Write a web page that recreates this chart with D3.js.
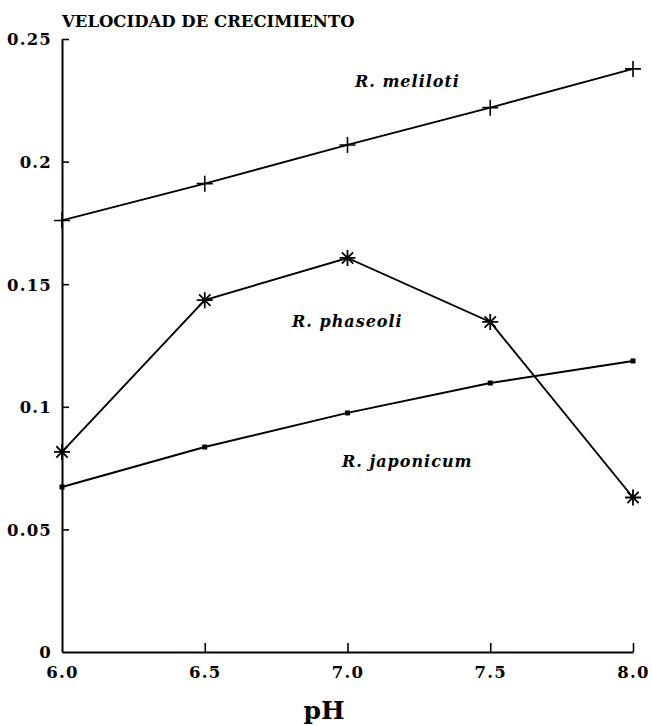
<!DOCTYPE html>
<html>
<head>
<meta charset="utf-8">
<script src="https://cdn.jsdelivr.net/npm/d3@7"></script>
<style>
  html, body { margin: 0; padding: 0; background: #fff; }
  svg { display: block; }
  text { font-family: "DejaVu Serif", "Liberation Serif", serif; font-weight: bold; fill: #000; }
</style>
</head>
<body>
<svg id="chart" width="652" height="726"></svg>
<script>
// pH values on the x axis
const phValues = [6.0, 6.5, 7.0, 7.5, 8.0];
const xTickLabels = ["6.0", "6.5", "7.0", "7.5", "8.0"];

// growth rate ticks
const yTicks = [0, 0.05, 0.1, 0.15, 0.2, 0.25];
const yTickLabels = ["0", "0.05", "0.1", "0.15", "0.2", "0.25"];

// growth rate per species
const meliloti  = [0.176, 0.191, 0.2068, 0.222, 0.2378];
const phaseoli  = [0.0816, 0.1435, 0.1607, 0.1346, 0.063];
const japonicum = [0.0673, 0.0836, 0.0975, 0.1097, 0.1187];

const seriesNames = ["R. meliloti", "R. phaseoli", "R. japonicum"];

const svg = d3.select("#chart");
const plotLeft = 62, plotRight = 633, plotTop = 39, plotBottom = 652;

const x = d3.scaleLinear().domain([6.0, 8.0]).range([plotLeft, plotRight]);
const y = d3.scaleLinear().domain([0, 0.25]).range([plotBottom, plotTop]);

// axes: ticks point into the plot
const xAxis = d3.axisBottom(x)
  .tickValues(phValues)
  .tickFormat((d, i) => xTickLabels[i])
  .tickSizeInner(-9).tickSizeOuter(0).tickPadding(14);
const yAxis = d3.axisLeft(y)
  .tickValues(yTicks)
  .tickFormat((d, i) => yTickLabels[i])
  .tickSizeInner(-7).tickSizeOuter(0).tickPadding(10);

const gx = svg.append("g").attr("transform", `translate(0,${plotBottom})`).call(xAxis);
const gy = svg.append("g").attr("transform", `translate(${plotLeft},0)`).call(yAxis);

[gx, gy].forEach(g => {
  g.select(".domain").attr("stroke", "#000").attr("stroke-width", 2);
  g.selectAll(".tick line").attr("stroke", "#000").attr("stroke-width", 1.6);
  g.selectAll(".tick text").attr("font-family", "DejaVu Serif, serif")
    .attr("font-weight", "bold").attr("font-size", 16.5)
    .attr("letter-spacing", 1.2).attr("fill", "#000");
});
gx.selectAll(".tick").filter(d => d === 6.0).select("line").remove();
gy.selectAll(".tick").filter(d => d === 0).select("line").remove();
gy.selectAll(".tick text").attr("dy", "0.36em");

// titles
svg.append("text").attr("x", plotLeft).attr("y", 27)
  .attr("font-size", 16.5).text("VELOCIDAD DE CRECIMIENTO");
svg.append("text").attr("x", 324).attr("y", 719)
  .attr("text-anchor", "middle").attr("font-size", 25).text("pH");

const line = d3.line().x(d => x(d[0])).y(d => y(d[1]));
const zip = vals => phValues.map((p, i) => [p, vals[i]]);

function drawLine(vals) {
  svg.append("path").datum(zip(vals)).attr("d", line)
    .attr("fill", "none").attr("stroke", "#000").attr("stroke-width", 1.9);
}
drawLine(meliloti);
drawLine(phaseoli);
drawLine(japonicum);

// plus markers
svg.append("g").selectAll("path").data(zip(meliloti)).join("path")
  .attr("transform", d => `translate(${x(d[0])},${y(d[1])})`)
  .attr("d", "M-8,0H8M0,-8V8")
  .attr("stroke", "#000").attr("stroke-width", 1.6).attr("fill", "none");

// asterisk markers
const starPath = d3.range(4).map(k => {
  const a = k * Math.PI / 4, r = 8;
  const dx = r * Math.cos(a), dy = r * Math.sin(a);
  return `M${-dx},${-dy}L${dx},${dy}`;
}).join("");
svg.append("g").selectAll("path").data(zip(phaseoli)).join("path")
  .attr("transform", d => `translate(${x(d[0])},${y(d[1])})`)
  .attr("d", starPath)
  .attr("stroke", "#000").attr("stroke-width", 1.8).attr("fill", "none");

// small square markers
svg.append("g").selectAll("rect").data(zip(japonicum)).join("rect")
  .attr("x", d => x(d[0]) - 2.5).attr("y", d => y(d[1]) - 2.5)
  .attr("width", 5).attr("height", 5).attr("fill", "#000");

// species labels
const labelPos = [[355, 87], [292, 327], [342, 467]];
seriesNames.forEach((name, i) => {
  svg.append("text").attr("x", labelPos[i][0]).attr("y", labelPos[i][1])
    .attr("font-style", "italic").attr("font-size", 16)
    .attr("letter-spacing", 1).text(name);
});
</script>
</body>
</html>
